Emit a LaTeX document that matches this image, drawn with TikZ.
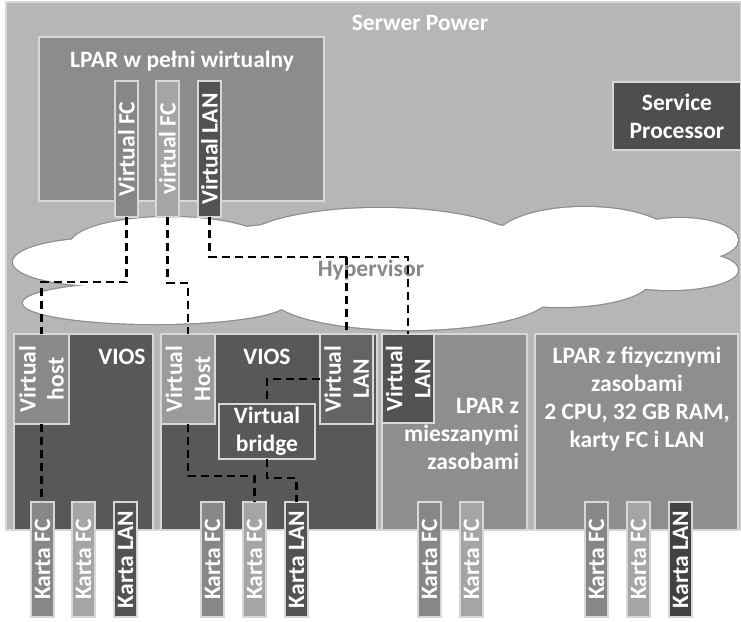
\documentclass[tikz,border=0pt]{standalone}
\usepackage{fontspec}
\setmainfont{Carlito}
\definecolor{serverbg}{RGB}{182,182,182}
\definecolor{lparv}{RGB}{140,140,140}
\definecolor{edgec}{RGB}{215,215,215}
\definecolor{midg}{RGB}{135,135,135}
\definecolor{lightg}{RGB}{165,165,165}
\definecolor{darkg}{RGB}{82,82,82}
\definecolor{darkerg}{RGB}{66,66,66}
\definecolor{spg}{RGB}{78,78,78}
\definecolor{viosg}{RGB}{88,88,88}
\definecolor{vhostg}{RGB}{138,138,138}
\definecolor{vhostb}{RGB}{155,155,155}
\definecolor{vlang}{RGB}{100,100,100}
\definecolor{lparg}{RGB}{142,142,142}
\definecolor{cloudline}{RGB}{140,140,140}
\definecolor{hypg}{RGB}{135,135,135}
\newcommand\rstrip[7]{%
  \node[box,fill=#6,minimum width=#4pt,minimum height=#5pt] (#1) at (#2,#3) {};
  \node[rot] (#1t) at (#1.center) {#7};}
\begin{document}
\begin{tikzpicture}[x=1pt,y=-1pt,
  every node/.style={font=\bfseries\fontsize{23.5}{28}\selectfont, text=white, inner sep=0pt, outer sep=0pt},
  box/.style={draw=edgec, line width=1.2pt, rectangle, anchor=north west},
  rot/.style={rotate=90, align=center},
  conn/.style={draw=black, line width=2.6pt, dash pattern=on 8pt off 5pt},
  lobe/.style={draw=cloudline, line width=2.4pt}]
\useasboundingbox (0,0) rectangle (741,621);
\fill[white] (0,0) rectangle (741,621);
% server
\node[box,fill=serverbg,minimum width=735pt,minimum height=528pt] (server) at (6,2) {};
\node (servert) at (420,23) {Serwer Power};
% LPAR fully virtual
\node[box,fill=lparv,minimum width=285pt,minimum height=164pt] (lparv) at (39,37) {};
\node (lparvt) at (182,61) {LPAR w pełni wirtualny};
% service processor
\node[box,fill=spg,minimum width=128pt,minimum height=68pt] (sp) at (613,82) {};
\node[align=center] (spt) at (sp.center) {Service\\Processor};
% cloud
\foreach \cx/\cy/\rx/\ry in {105/262/92/24, 155/303/132/21, 170/245/100/28, 380/245/140/37,
  585/240/90/33, 680/240/58/22, 670/270/68/20, 410/295/140/35, 560/280/90/27, 380/265/250/45}
  {\path[lobe] (\cx,\cy) ellipse [x radius=\rx, y radius=\ry];}
\foreach \cx/\cy/\rx/\ry in {105/262/92/24, 155/303/132/21, 170/245/100/28, 380/245/140/37,
  585/240/90/33, 680/240/58/22, 670/270/68/20, 410/295/140/35, 560/280/90/27, 380/265/250/45}
  {\fill[white] (\cx,\cy) ellipse [x radius=\rx, y radius=\ry];}
\node[text=hypg] (hyp) at (371,270) {Hypervisor};
% virtual strips of LPAR
\rstrip{vfc1}{115}{81}{23}{136}{midg}{Virtual FC}
\rstrip{vfc2}{156}{81}{23}{136}{lightg}{virtual FC}
\rstrip{vlan0}{198}{81}{23}{136}{darkg}{Virtual LAN}
% VIOS 1
\node[box,fill=viosg,minimum width=139pt,minimum height=196pt] (vios1) at (14,334) {};
\rstrip{vhost1}{14}{334}{55}{90}{vhostg}{Virtual\\host}
\node (vios1t) at (122,357) {VIOS};
% VIOS 2
\node[box,fill=viosg,minimum width=216pt,minimum height=196pt] (vios2) at (161,334) {};
\rstrip{vhost2}{161}{334}{54}{90}{vhostb}{Virtual\\Host}
\node (vios2t) at (267,357) {VIOS};
\rstrip{vlan2}{320}{334}{53}{90}{vlang}{Virtual\\LAN}
\node[box,fill=viosg,minimum width=96pt,minimum height=55pt,align=center] (vbridge) at (219,404) {};
\node[align=center] (vbridget) at (vbridge.center) {Virtual\\bridge};
% LPAR mixed
\node[box,fill=lparg,minimum width=145pt,minimum height=196pt] (mixed) at (382,334) {};
\rstrip{vlan3}{382}{334}{52}{89}{darkg}{Virtual\\LAN}
\node[align=right,anchor=east] (mixedt) at (519,434) {LPAR z\\mieszanymi\\zasobami};
% LPAR physical
\node[box,fill=lparg,minimum width=203pt,minimum height=196pt] (phys) at (535,334) {};
\node[align=center] (physt) at (637,399) {LPAR z fizycznymi\\zasobami\\2 CPU, 32 GB RAM,\\karty FC i LAN};
% cards
\rstrip{k1}{31}{502}{23}{115}{midg}{Karta FC}
\rstrip{k2}{72}{502}{23}{115}{lightg}{Karta FC}
\rstrip{k3}{114}{502}{23}{115}{darkg}{Karta LAN}
\rstrip{k4}{201}{502}{23}{115}{midg}{Karta FC}
\rstrip{k5}{243}{502}{23}{115}{lightg}{Karta FC}
\rstrip{k6}{285}{502}{23}{115}{darkg}{Karta LAN}
\rstrip{k7}{418}{502}{23}{115}{midg}{Karta FC}
\rstrip{k8}{460}{502}{23}{115}{lightg}{Karta FC}
\rstrip{k9}{585}{502}{23}{115}{midg}{Karta FC}
\rstrip{k10}{627}{502}{23}{115}{lightg}{Karta FC}
\rstrip{k11}{669}{502}{23}{115}{darkerg}{Karta LAN}
% connectors
\draw[conn] (vfc1.south) -- ++(0,65) -| (vhost1.north);
\draw[conn] (vhost1.south) -- (vhost1.south |- k1.north);
\draw[conn] (vfc2.south) -- ++(0,66) -| (vhost2.north);
\draw[conn] (vhost2.south) -- ++(0,52) -| (k5.north);
\draw[conn] (vlan0.south) -- ++(0,40) coordinate (lanjoin) -| (vlan3.north);
\draw[conn] (lanjoin -| vlan2.north) -- (vlan2.north);
\draw[conn] (vlan2.west) -| (vbridge.north);
\draw[conn] (vbridge.south) -- ++(0,19) -| (k6.north);
\end{tikzpicture}
\end{document}
